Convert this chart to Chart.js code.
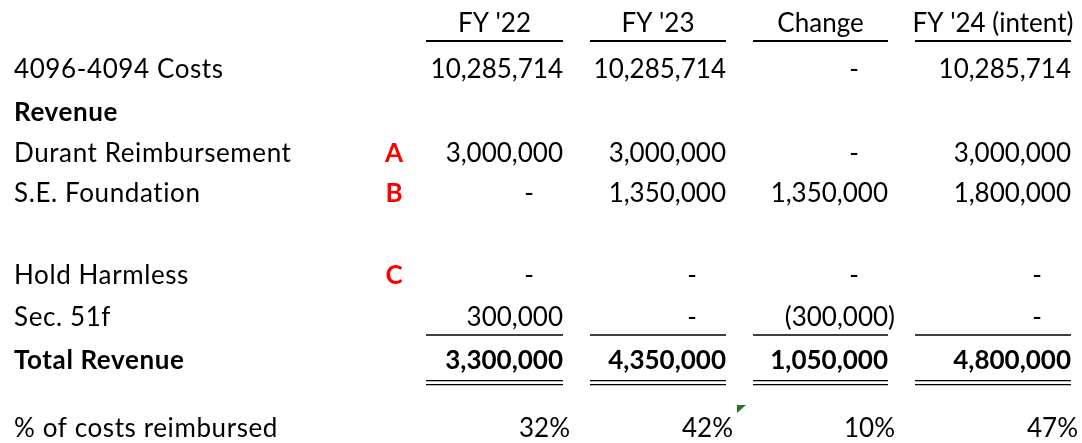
<!DOCTYPE html>
<html>
<head>
<meta charset="utf-8">
<script src="https://cdn.jsdelivr.net/npm/chart.js@4.4.1/dist/chart.umd.min.js"></script>
<style>
  html, body { margin: 0; padding: 0; background: #fff; overflow: hidden; }
  canvas { display: block; }
</style>
</head>
<body>
<canvas id="sheet" width="1082" height="443"></canvas>
<script>
// table contents
const headers = ["FY '22", "FY '23", "Change", "FY '24 (intent)"];
const rowLabels = ["4096-4094 Costs", "Revenue", "Durant Reimbursement", "S.E. Foundation", "",
  "Hold Harmless", "Sec. 51f", "Total Revenue", "", "% of costs reimbursed"];
const notes = ["", "", "A", "B", "", "C", "", "", "", ""];
const fy22 = [10285714, null, 3000000, 0, null, 0, 300000, 3300000, null, 0.32];
const fy23 = [10285714, null, 3000000, 1350000, null, 0, 0, 4350000, null, 0.42];
const change = [0, null, 0, 1350000, null, 0, -300000, 1050000, null, 0.10];
const fy24 = [10285714, null, 3000000, 1800000, null, 0, 0, 4800000, null, 0.47];
const valueColumns = [fy22, fy23, change, fy24];

const boldRows = ["Revenue", "Total Revenue"];
const pctRow = "% of costs reimbursed";
const singleUnderRows = ["Sec. 51f"];
const doubleUnderRows = ["Total Revenue"];

// sheet geometry, like spreadsheet column widths / row heights
const colWidths = [380, 28, 164, 163, 162, 183];
const rowHeights = [45, 47, 40, 41, 40, 41, 41, 43, 44, 28, 36]; // first is header row

const colEdges = [0];
colWidths.forEach((w) => colEdges.push(colEdges[colEdges.length - 1] + w));
const rowEdges = [0];
rowHeights.forEach((h) => rowEdges.push(rowEdges[rowEdges.length - 1] + h));
const rowMid = (r) => (rowEdges[r] + rowEdges[r + 1]) / 2; // r = sheet row, 0 = header

const FONT = "Lato, 'Noto Sans', sans-serif";
const SIZE = 26;

function fmt(v, label) {
  if (v === null) return "";
  if (label === pctRow) return Math.round(v * 100) + "%";
  if (v === 0) return "-";
  if (v < 0) return "(" + Math.abs(v).toLocaleString("en-US") + ")";
  return v.toLocaleString("en-US");
}

// one dataset per sheet column; points sit at the cell anchor
const datasets = [];
datasets.push({
  kind: "label",
  data: rowLabels.map((t, i) => ({ x: colEdges[0] + 14, y: rowMid(i + 1), text: t, bold: boldRows.includes(t) })),
});
datasets.push({
  kind: "note",
  data: notes.map((t, i) => ({ x: (colEdges[1] + colEdges[2]) / 2, y: rowMid(i + 1), text: t, bold: true })),
});
valueColumns.forEach((col, c) => {
  const right = colEdges[c + 3];
  datasets.push({
    kind: "header",
    data: [{ x: (colEdges[c + 2] + 18 + right - 9) / 2, y: rowMid(0), text: headers[c] }],
  });
  datasets.push({
    kind: "value",
    data: col.map((v, i) => ({
      x: right, y: rowMid(i + 1), v: v,
      text: fmt(v, rowLabels[i]), pct: rowLabels[i] === pctRow,
      bold: boldRows.includes(rowLabels[i]),
    })),
  });
});
datasets.forEach((d) => { d.pointRadius = 0; d.showLine = false; });

const tablePlugin = {
  id: "tablePlugin",
  afterDatasetsDraw(chart) {
    const c = chart.ctx;
    const xs = chart.scales.x, ys = chart.scales.y;
    c.save();
    c.textBaseline = "middle";
    chart.data.datasets.forEach((ds, di) => {
      const meta = chart.getDatasetMeta(di);
      meta.data.forEach((el, i) => {
        const p = ds.data[i];
        if (!p.text) return;
        c.font = (p.bold ? "bold " : "") + SIZE + "px " + FONT;
        c.fillStyle = "#000";
        c.letterSpacing = "0px";
        let x = el.x;
        const y = el.y + 1;
        if (ds.kind === "label") {
          c.textAlign = "left";
          c.letterSpacing = "0.6px"; // Lato runs a bit narrower than the sheet's font
        } else if (ds.kind === "note") {
          c.textAlign = "center";
          c.fillStyle = "#ff0000";
        } else if (ds.kind === "header") {
          c.textAlign = "center";
        } else {
          c.textAlign = "right";
          if (p.pct) x -= 2;
          else if (p.v === 0) x -= 38;
          else if (p.v < 0) x -= 2;
          else x -= 9;
        }
        c.fillText(p.text, x, y);
      });
    });
    c.letterSpacing = "0px";

    // underlines under the value columns
    c.strokeStyle = "#000";
    for (let k = 0; k < valueColumns.length; k++) {
      const x0 = xs.getPixelForValue(colEdges[k + 2] + 18);
      const x1 = xs.getPixelForValue(colEdges[k + 3] - 9);
      const line = (yv, w) => {
        const y = ys.getPixelForValue(yv);
        c.lineWidth = w;
        c.beginPath(); c.moveTo(x0, y); c.lineTo(x1, y); c.stroke();
      };
      line(rowEdges[1] - 4, 2);
      singleUnderRows.forEach((lab) => {
        const r = rowLabels.indexOf(lab) + 1;
        line(rowEdges[r + 1] - 3, 1.6);
      });
      doubleUnderRows.forEach((lab) => {
        const r = rowLabels.indexOf(lab) + 1;
        line(rowEdges[r + 1] - 1.3, 1.2);
        line(rowEdges[r + 1] + 2.7, 1.2);
      });
    }

    // green error marker at top-left of the "Change" % cell
    const pr = rowLabels.indexOf(pctRow) + 1;
    const tx = xs.getPixelForValue(colEdges[4] + 2);
    const ty = ys.getPixelForValue(rowEdges[pr] - 5);
    c.fillStyle = "#1f7a1f";
    c.beginPath(); c.moveTo(tx, ty); c.lineTo(tx + 9, ty); c.lineTo(tx, ty + 8); c.closePath(); c.fill();
    c.restore();
  },
};

new Chart(document.getElementById("sheet"), {
  type: "scatter",
  data: { datasets: datasets },
  options: {
    responsive: false,
    animation: false,
    events: [],
    layout: { padding: 0 },
    plugins: { legend: { display: false }, tooltip: { enabled: false } },
    scales: {
      x: { type: "linear", min: 0, max: 1082, display: false },
      y: { type: "linear", min: 0, max: 443, reverse: true, display: false },
    },
  },
  plugins: [tablePlugin],
});
</script>
</body>
</html>
